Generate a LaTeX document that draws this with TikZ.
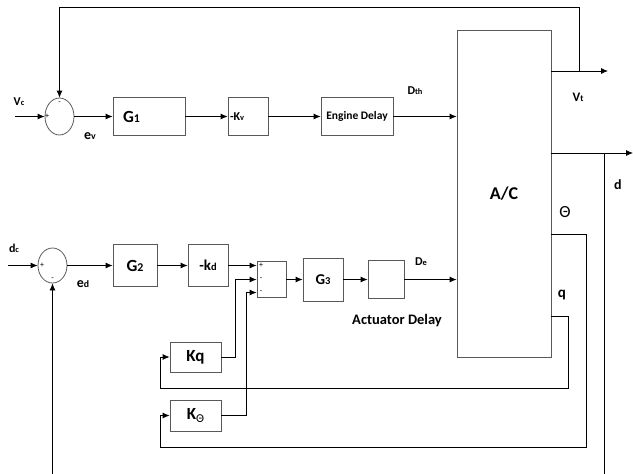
\documentclass[tikz,border=0pt]{standalone}
\usepackage{fontspec}
\setmainfont{Carlito}
\usetikzlibrary{shapes.geometric, arrows.meta, positioning}
\newcommand{\ssc}[1]{\scalebox{0.7}{#1}}

\begin{document}
\begin{tikzpicture}[
    x=1pt, y=-1pt,
    line width=0.8pt,
    blk/.style={rectangle, draw=black!65, inner sep=0pt, font=\bfseries\fontsize{#1}{#1}\selectfont},
    blk/.default=12,
    sumo/.style={ellipse, draw=black!65, inner sep=0pt, minimum width=29pt},
    arr/.style={-{Latex[length=7pt,width=6pt]}},
    lbl/.style={inner sep=0pt, font=\bfseries\fontsize{#1}{#1}\selectfont},
    lbl/.default=12,
    sgn/.style={inner sep=0pt, font=\fontsize{8}{8}\selectfont}
]
\useasboundingbox (0,0) rectangle (633,474);

%% -- speed loop (top row) --
\node[sumo, minimum height=37pt] (sumv) at (59.5,116.5) {};
\node[blk=17, minimum width=72pt, minimum height=38pt, text width=52pt, align=left] (g1) at (149,116.5) {G\ssc{1}};
\node[blk=12, minimum width=40pt, minimum height=38pt, text width=36pt, align=left] (kv) at (248,116.5) {-K\ssc{v}};
\node[blk=11.5, minimum width=72pt, minimum height=38pt] (engdel) at (357,116.5) {Engine Delay};

%% -- aircraft block --
\node[blk=18, minimum width=94pt, minimum height=327pt] (ac) at (504,193.5) {A/C};

%% -- depth loop (lower row) --
\node[sumo, minimum height=35pt] (sumd) at (52.5,265.5) {};
\node[blk=17, minimum width=44pt, minimum height=42pt] (g2) at (135,265.5) {G\ssc{2}};
\node[blk=15, minimum width=40pt, minimum height=42pt] (kd) at (208,265.5) {-k\ssc{d}};
\node[blk, minimum width=29pt, minimum height=36pt] (sumz) at (271.5,279.5) {};
\node[blk=15, minimum width=40pt, minimum height=43pt] (g3) at (323,279.5) {G\ssc{3}};
\node[blk, minimum width=36pt, minimum height=38pt] (actdel) at (386,279.5) {};

%% -- inner feedback gains --
\node[blk=17, minimum width=51pt, minimum height=30pt] (kq) at (195.5,357) {Kq};
\node[blk=17, minimum width=51pt, minimum height=31pt] (kth) at (195.5,415.5) {K\raisebox{-3pt}{\mdseries\fontsize{12}{12}\selectfont Θ}};

%% -- signs --
\node[sgn] (sv1) at (47,116.5) {+};
\node[sgn] (sv2) at (59.5,103) {-};
\node[sgn] (sd1) at (42,265.5) {+};
\node[sgn] (sd2) at (52.5,279) {-};
\node[sgn] (sz1) at (261,265.5) {+};
\node[sgn] (sz2) at (261,279) {-};
\node[sgn] (sz3) at (261,292) {-};

%% -- signal labels --
\node[lbl] (vc)  at (19,102)  {V\ssc{c}};
\node[lbl=14] (ev)  at (90,136)  {e\ssc{v}};
\node[lbl] (dth) at (415,91)  {D\ssc{th}};
\node[lbl=13] (vt)  at (578,97)  {V\ssc{t}};
\node[lbl=14] (dl)  at (618,185) {d};
\node[inner sep=0pt, font=\fontsize{17}{17}\selectfont] (thl) at (565,212) {Θ};
\node[lbl=15] (ql)  at (562,295) {q};
\node[lbl] (de)  at (421,262) {D\ssc{e}};
\node[lbl=14.5] (actl) at (397,321) {Actuator Delay};
\node[lbl] (dc)  at (14,248)  {d\ssc{c}};
\node[lbl=14] (ed)  at (83,284)  {e\ssc{d}};

%% -- free ends and corners --
\coordinate (vcin) at (15,116.5);
\coordinate (dcin) at (8,265.5);
\coordinate (vtout) at (608,71);
\coordinate (vtbr) at (579,71);
\coordinate (fbv) at (579,7);
\coordinate (dout) at (633,153);
\coordinate (dbr) at (604,153);
\coordinate (dbot) at (604,474);
\coordinate (fbd) at (52.5,474);
\coordinate (thbr) at (586,234);
\coordinate (thbl) at (160,447);
\coordinate (qbr) at (568,316);
\coordinate (qbl) at (160,388);

%% -- top row arrows --
\draw[arr] (vcin) -- (sumv.west);
\draw[arr] (sumv.east) -- (g1.west);
\draw[arr] (g1) -- (kv);
\draw[arr] (kv) -- (engdel);
\draw[arr] (engdel.east) -- (ac.west |- engdel.east);

%% -- outputs and outer loops --
\draw[arr] (ac.east |- vtout) -- (vtout);
\draw[arr] (vtbr) -- (fbv) -| (sumv.north);
\draw[arr] (ac.east |- dout) -- (dout);
\draw (dbr) -- (dbot);
\draw[arr] (fbd) -- (sumd.south);

%% -- lower row arrows --
\draw[arr] (dcin) -- (sumd.west);
\draw[arr] (sumd.east) -- (g2.west);
\draw[arr] (g2) -- (kd);
\draw[arr] (kd.east) -- (sumz.west |- kd.east);
\draw[arr] (sumz.east) -- (g3.west |- sumz.east);
\draw[arr] (g3) -- (actdel);
\draw[arr] (actdel.east) -- (ac.west |- actdel.east);

%% -- inner loops --
\draw[arr] (ac.east |- qbr) -- (qbr) |- (qbl) |- (kq.west);
\draw[arr] (ac.east |- thbr) -- (thbr) |- (thbl) |- (kth.west);
\draw[arr] (kq.east) -| ([xshift=-21pt]sumz.west) -- (sumz.west);
\draw[arr] (kth.east) -| ([xshift=-10pt,yshift=-13pt]sumz.west) -- ([yshift=-13pt]sumz.west);

\end{tikzpicture}
\end{document}
